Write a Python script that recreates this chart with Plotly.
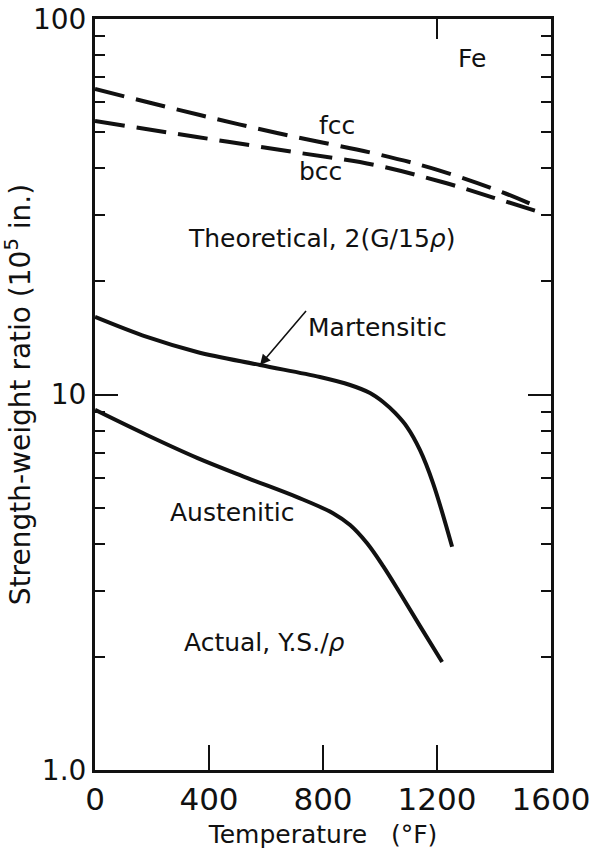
import math
import plotly.graph_objects as go

# Temperature (°F) and strength-weight ratio (10^5 in.)
fcc_T = [0, 368, 639, 1000, 1204, 1428, 1560]
fcc_v = [65.1, 55.5, 49.7, 43.5, 39.6, 34.6, 31.4]

bcc_T = [0, 358, 709, 979, 1218, 1400, 1560]
bcc_v = [53.5, 48.5, 44.1, 40.9, 36.8, 33.4, 30.6]

mart_T = [0, 182, 358, 579, 789, 895, 965, 1011, 1053, 1095, 1140, 1186, 1253]
mart_v = [16.09, 14.23, 12.98, 11.98, 11.13, 10.60, 10.09, 9.55, 8.93, 8.19, 7.12, 5.81, 3.93]

aust_T = [0, 182, 358, 533, 709, 835, 895, 954, 1011, 1070, 1140, 1218]
aust_v = [9.1, 7.8, 6.78, 6.0, 5.33, 4.83, 4.49, 4.02, 3.49, 2.96, 2.42, 1.94]

x_ticks = [0, 400, 800, 1200, 1600]
y_ticks = [1, 10, 100]
y_ticktext = ["1.0", "10", "100"]
y_minor = [2, 3, 4, 5, 6, 7, 8, 9, 20, 30, 40, 50, 60, 70, 80, 90]

FONT = "DejaVu Sans"
BLACK = "#111111"

fig = go.Figure()
dash = "30px,12px"
fig.add_trace(go.Scatter(x=fcc_T, y=fcc_v, mode="lines", line=dict(color=BLACK, width=4, dash=dash, shape="spline", smoothing=1.0)))
fig.add_trace(go.Scatter(x=bcc_T, y=bcc_v, mode="lines", line=dict(color=BLACK, width=4, dash=dash, shape="spline", smoothing=1.0)))
fig.add_trace(go.Scatter(x=mart_T, y=mart_v, mode="lines", line=dict(color=BLACK, width=4, shape="spline", smoothing=1.0)))
fig.add_trace(go.Scatter(x=aust_T, y=aust_v, mode="lines", line=dict(color=BLACK, width=4, shape="spline", smoothing=1.0)))
# invisible trace to enable the top axis (single tick at 1200)
fig.add_trace(go.Scatter(x=[0, 1600], y=[1, 1], xaxis="x2", mode="lines", line=dict(width=0), hoverinfo="skip"))

def ann(text, x, y, size=25, **kw):
    fig.add_annotation(text=text, x=x, y=math.log10(y), xref="x", yref="y", showarrow=False,
                       font=dict(family=FONT, size=size, color=BLACK), **kw)

ann("Fe", 1323, 78.7)
ann("fcc", 849, 52.2)
ann("bcc", 790, 39.2)
ann("Theoretical, 2(G/15<i>ρ</i>)", 796, 26.1)
ann("Austenitic", 481, 4.86)
ann("Actual, Y.S./<i>ρ</i>", 596, 2.18)

# Martensitic label with arrow pointing to the curve
fig.add_annotation(text="Martensitic", x=579, y=math.log10(11.98), xref="x", yref="y",
                   ax=46, ay=-54, xanchor="left", yanchor="top",
                   showarrow=True, arrowhead=2, arrowsize=1.3,
                   arrowwidth=1.6, arrowcolor=BLACK, standoff=0,
                   font=dict(family=FONT, size=25, color=BLACK))

fig.update_layout(
    width=596, height=854,
    margin=dict(l=95, r=45, t=19, b=84),
    paper_bgcolor="white", plot_bgcolor="white",
    showlegend=False,
    font=dict(family=FONT, color=BLACK),
    xaxis=dict(
        range=[0, 1600], tickvals=x_ticks, ticks="inside", ticklen=25, tickwidth=2,
        tickcolor=BLACK, showline=True, linewidth=3, linecolor=BLACK, mirror=True,
        showgrid=False, zeroline=False, tickfont=dict(size=31, family=FONT),
        automargin=False,
        title=dict(text="Temperature   (°F)", font=dict(size=25, family=FONT), standoff=10),
    ),
    xaxis2=dict(
        range=[0, 1600], overlaying="x", side="top", tickvals=[1200], ticks="inside",
        ticklen=20, tickwidth=2, tickcolor=BLACK, showticklabels=False, showgrid=False,
        zeroline=False, showline=False, automargin=False,
    ),
    yaxis=dict(
        type="log", range=[0, 2], tickvals=y_ticks, ticktext=y_ticktext,
        ticks="inside", ticklen=23, tickwidth=2, tickcolor=BLACK,
        minor=dict(tickvals=y_minor, ticks="inside", ticklen=10, tickwidth=2, tickcolor=BLACK),
        showline=True, linewidth=3, linecolor=BLACK, mirror="ticks",
        showgrid=False, zeroline=False, tickfont=dict(size=28, family=FONT),
        automargin=False,
        title=dict(text="Strength-weight ratio (10<sup>5</sup> in.)", font=dict(size=28, family=FONT), standoff=6),
    ),
)

fig.write_html("out.html")
